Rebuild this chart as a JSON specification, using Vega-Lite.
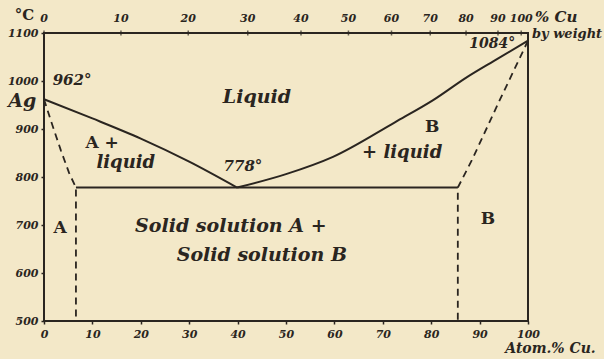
{
  "$schema": "https://vega.github.io/schema/vega-lite/v6.json",
  "width": 484,
  "height": 288,
  "autosize": "none",
  "padding": {"left": 44, "top": 33, "right": 76, "bottom": 38},
  "background": "#f3e8c8",
  "config": {
    "view": {"stroke": "#2a2520", "strokeWidth": 2},
    "font": "DejaVu Serif"
  },
  "datasets": {
    "solid": [
      {"curve": "liquidus Ag", "i": 0, "at": 0, "t": 962},
      {"curve": "liquidus Ag", "i": 1, "at": 10, "t": 922},
      {"curve": "liquidus Ag", "i": 2, "at": 20, "t": 880},
      {"curve": "liquidus Ag", "i": 3, "at": 30, "t": 832},
      {"curve": "liquidus Ag", "i": 4, "at": 39.9, "t": 778},
      {"curve": "liquidus Cu", "i": 0, "at": 39.9, "t": 778},
      {"curve": "liquidus Cu", "i": 1, "at": 50, "t": 806},
      {"curve": "liquidus Cu", "i": 2, "at": 59.7, "t": 842},
      {"curve": "liquidus Cu", "i": 3, "at": 72.5, "t": 914},
      {"curve": "liquidus Cu", "i": 4, "at": 80.4, "t": 960},
      {"curve": "liquidus Cu", "i": 5, "at": 87.4, "t": 1008},
      {"curve": "liquidus Cu", "i": 6, "at": 93.5, "t": 1045},
      {"curve": "liquidus Cu", "i": 7, "at": 100, "t": 1084},
      {"curve": "eutectic", "i": 0, "at": 6.6, "t": 778},
      {"curve": "eutectic", "i": 1, "at": 85.5, "t": 778}
    ],
    "dashed": [
      {"curve": "solvus A", "i": 0, "at": 0, "t": 962},
      {"curve": "solvus A", "i": 1, "at": 1.5, "t": 915},
      {"curve": "solvus A", "i": 2, "at": 3.5, "t": 855},
      {"curve": "solvus A", "i": 3, "at": 5.2, "t": 808},
      {"curve": "solvus A", "i": 4, "at": 6.6, "t": 778},
      {"curve": "solvus A", "i": 5, "at": 6.6, "t": 500},
      {"curve": "solvus B", "i": 0, "at": 100, "t": 1084},
      {"curve": "solvus B", "i": 1, "at": 94.2, "t": 961},
      {"curve": "solvus B", "i": 2, "at": 88.4, "t": 835},
      {"curve": "solvus B", "i": 3, "at": 85.5, "t": 778},
      {"curve": "solvus B", "i": 4, "at": 85.5, "t": 500}
    ],
    "weightTicks": [
      {"wt": "0", "at": 0, "t": 1100},
      {"wt": "10", "at": 15.9, "t": 1100},
      {"wt": "20", "at": 29.8, "t": 1100},
      {"wt": "30", "at": 42.1, "t": 1100},
      {"wt": "40", "at": 53.1, "t": 1100},
      {"wt": "50", "at": 62.9, "t": 1100},
      {"wt": "60", "at": 71.8, "t": 1100},
      {"wt": "70", "at": 79.8, "t": 1100},
      {"wt": "80", "at": 87.2, "t": 1100},
      {"wt": "90", "at": 93.8, "t": 1100},
      {"wt": "100", "at": 98.6, "t": 1100}
    ],
    "italicLabels": [
      {"text": "962°", "at": 5.8, "t": 1002, "size": 15},
      {"text": "Liquid", "at": 44, "t": 966, "size": 19},
      {"text": "liquid", "at": 16.9, "t": 829, "size": 18},
      {"text": "778°", "at": 41.1, "t": 822, "size": 15},
      {"text": "+ liquid", "at": 74, "t": 850, "size": 18},
      {"text": "1084°", "at": 92.6, "t": 1077, "size": 14},
      {"text": "Solid solution A +", "at": 38.6, "t": 697, "size": 19},
      {"text": "Solid solution B", "at": 45, "t": 637, "size": 19},
      {"text": "Ag", "at": -4.5, "t": 958, "size": 19}
    ],
    "uprightLabels": [
      {"text": "A +", "at": 12, "t": 871, "size": 17},
      {"text": "B", "at": 80.2, "t": 904, "size": 17},
      {"text": "A", "at": 3.3, "t": 694, "size": 17},
      {"text": "B", "at": 91.7, "t": 712, "size": 17}
    ]
  },
  "encoding": {
    "x": {
      "field": "at",
      "type": "quantitative",
      "scale": {"domain": [0, 100], "nice": false, "zero": false},
      "axis": {
        "orient": "bottom",
        "values": [0, 10, 20, 30, 40, 50, 60, 70, 80, 90, 100],
        "format": "d",
        "domain": false,
        "grid": false,
        "tickSize": 3,
        "tickWidth": 1.5,
        "tickColor": "#2a2520",
        "labelFont": "DejaVu Serif",
        "labelFontStyle": "italic",
        "labelFontWeight": "bold",
        "labelFontSize": 11,
        "labelColor": "#2a2520",
        "labelPadding": 4,
        "labelFlush": false,
        "title": "Atom.% Cu.",
        "titleFont": "DejaVu Serif",
        "titleFontStyle": "italic",
        "titleFontWeight": "bold",
        "titleFontSize": 14,
        "titleColor": "#2a2520",
        "titleX": 506,
        "titleY": 20,
        "titleAlign": "center",
        "titleBaseline": "top"
      }
    },
    "y": {
      "field": "t",
      "type": "quantitative",
      "scale": {"domain": [500, 1100], "nice": false, "zero": false},
      "axis": {
        "values": [500, 600, 700, 800, 900, 1000, 1100],
        "format": "d",
        "domain": false,
        "grid": false,
        "tickSize": 3,
        "tickWidth": 1.5,
        "tickColor": "#2a2520",
        "labelFont": "DejaVu Serif",
        "labelFontStyle": "italic",
        "labelFontWeight": "bold",
        "labelFontSize": 11,
        "labelColor": "#2a2520",
        "labelPadding": 3,
        "labelFlush": false,
        "title": "°C",
        "titleAngle": 0,
        "titleFont": "DejaVu Serif",
        "titleFontWeight": "bold",
        "titleFontSize": 15,
        "titleColor": "#2a2520",
        "titleX": -20,
        "titleY": -19,
        "titleAlign": "center",
        "titleBaseline": "middle"
      }
    }
  },
  "layer": [
    {
      "data": {"name": "solid"},
      "mark": {"type": "line", "color": "#2a2520", "strokeWidth": 2, "interpolate": "monotone"},
      "encoding": {
        "detail": {"field": "curve"},
        "order": {"field": "i", "type": "quantitative"}
      }
    },
    {
      "data": {"name": "dashed"},
      "mark": {"type": "line", "color": "#2a2520", "strokeWidth": 1.8, "strokeDash": [7, 5]},
      "encoding": {
        "detail": {"field": "curve"},
        "order": {"field": "i", "type": "quantitative"}
      }
    },
    {
      "data": {"name": "weightTicks"},
      "mark": {"type": "tick", "orient": "vertical", "color": "#2a2520", "size": 5, "thickness": 1.5}
    },
    {
      "data": {"name": "weightTicks"},
      "mark": {
        "type": "text",
        "font": "DejaVu Serif",
        "fontStyle": "italic",
        "fontWeight": "bold",
        "fontSize": 11,
        "color": "#2a2520",
        "baseline": "middle",
        "dy": -14
      },
      "encoding": {"text": {"field": "wt"}}
    },
    {
      "data": {"values": [{"text": "% Cu", "at": 100, "t": 1100}]},
      "mark": {
        "type": "text",
        "font": "DejaVu Serif",
        "fontStyle": "italic",
        "fontWeight": "bold",
        "fontSize": 15,
        "color": "#2a2520",
        "align": "left",
        "baseline": "middle",
        "dx": 7,
        "dy": -16
      },
      "encoding": {"text": {"field": "text"}}
    },
    {
      "data": {"values": [{"text": "by weight", "at": 100, "t": 1100}]},
      "mark": {
        "type": "text",
        "font": "DejaVu Serif",
        "fontStyle": "italic",
        "fontWeight": "bold",
        "fontSize": 13,
        "color": "#2a2520",
        "align": "left",
        "baseline": "middle",
        "dx": 4,
        "dy": 1
      },
      "encoding": {"text": {"field": "text"}}
    },
    {
      "data": {"name": "italicLabels"},
      "mark": {
        "type": "text",
        "font": "DejaVu Serif",
        "fontStyle": "italic",
        "fontWeight": "bold",
        "color": "#2a2520",
        "align": "center",
        "baseline": "middle"
      },
      "encoding": {
        "text": {"field": "text"},
        "size": {"field": "size", "type": "quantitative", "scale": null}
      }
    },
    {
      "data": {"name": "uprightLabels"},
      "mark": {
        "type": "text",
        "font": "DejaVu Serif",
        "fontWeight": "bold",
        "color": "#2a2520",
        "align": "center",
        "baseline": "middle"
      },
      "encoding": {
        "text": {"field": "text"},
        "size": {"field": "size", "type": "quantitative", "scale": null}
      }
    }
  ]
}
